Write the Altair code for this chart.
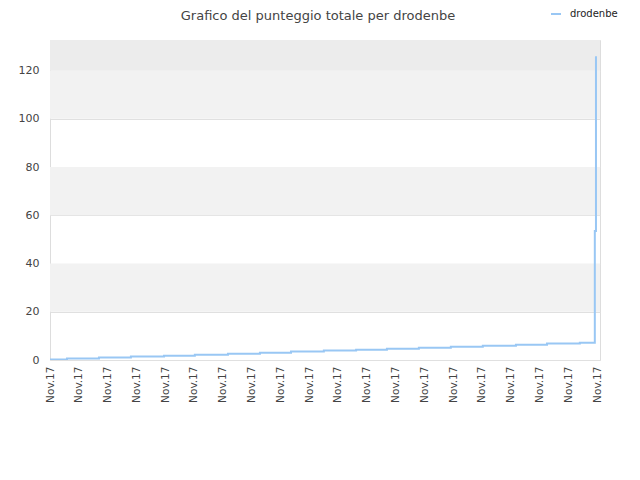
import altair as alt
import pandas as pd

# step data (x in label units, y = punteggio totale)
step_x = [0, 0.59, 1.70, 2.81, 3.96, 5.03, 6.18, 7.29, 8.37, 9.51, 10.63, 11.70,
          12.81, 13.92, 15.03, 16.18, 17.26, 18.40, 18.92, 18.92, 18.92, 18.96, 18.96, 18.96]
step_y = [0.2, 0.6, 1.0, 1.4, 1.8, 2.2, 2.6, 3.0, 3.5, 3.9, 4.3, 4.7,
          5.1, 5.5, 5.9, 6.3, 6.8, 7.2, 22, 41, 53.5, 66, 94, 126]
series_name = "drodenbe"
chart_title = "Grafico del punteggio totale per drodenbe"

tick_positions = list(range(20))
tick_label = "Nov.17"
y_ticks = [0, 20, 40, 60, 80, 100, 120]

band_lo = [20, 60, 100, 120]
band_hi = [40, 80, 120, 140]
band_col = ["#f2f2f2", "#f2f2f2", "#f2f2f2", "#ececec"]

X_MAX = 19.1
Y_MAX = 132.7

line_df = pd.DataFrame({"x": step_x, "y": step_y, "serie": [series_name] * len(step_x)})
band_df = pd.DataFrame({"lo": band_lo, "hi": band_hi, "c": band_col})
title_df = pd.DataFrame({"t": [chart_title]})

xscale = alt.Scale(domain=[0, X_MAX], nice=False, zero=False)
yscale = alt.Scale(domain=[0, Y_MAX], nice=False)

bands = alt.Chart(band_df).mark_rect(clip=True).encode(
    x=alt.value(0), x2=alt.value(550),
    y=alt.Y("lo:Q", scale=yscale, axis=alt.Axis(
        values=y_ticks, grid=True, gridColor="#e0e0e0", ticks=False, domain=False,
        labelFontSize=11, labelColor="#444444", labelFont="DejaVu Sans",
        labelPadding=11, title=None)),
    y2="hi:Q",
    color=alt.Color("c:N", scale=None),
)

line = alt.Chart(line_df).mark_line(interpolate="step-after", strokeWidth=2, clip=True).encode(
    x=alt.X("x:Q", scale=xscale, axis=alt.Axis(
        values=tick_positions, labelExpr=f"'{tick_label}'", labelAngle=270,
        grid=False, ticks=False, domain=False, labelFontSize=10.5,
        labelColor="#444444", labelFont="DejaVu Sans", labelPadding=6, title=None)),
    y=alt.Y("y:Q", scale=yscale),
    color=alt.Color("serie:N", scale=alt.Scale(domain=[series_name], range=["#99c7f4"]),
                    legend=alt.Legend(orient="none", legendX=500, legendY=-32, title=None,
                                      symbolType="stroke", symbolStrokeWidth=2, symbolSize=100,
                                      labelFontSize=10, labelFont="DejaVu Sans",
                                      labelColor="#222222", labelOffset=8)),
)

title = alt.Chart(title_df).mark_text(
    font="DejaVu Sans", fontSize=13, color="#444444", align="center", baseline="alphabetic"
).encode(text="t:N", x=alt.value(268), y=alt.value(-20.5))

chart = alt.layer(bands, line, title).properties(
    width=550, height=320,
    padding={"left": 42, "top": 32, "right": 24, "bottom": 100},
    autosize=alt.AutoSizeParams(type="none"),
).configure_view(stroke="#d6d6d6", strokeWidth=1).configure(background="white")

chart.save("out.html", embed_options={"renderer": "svg", "actions": False})
